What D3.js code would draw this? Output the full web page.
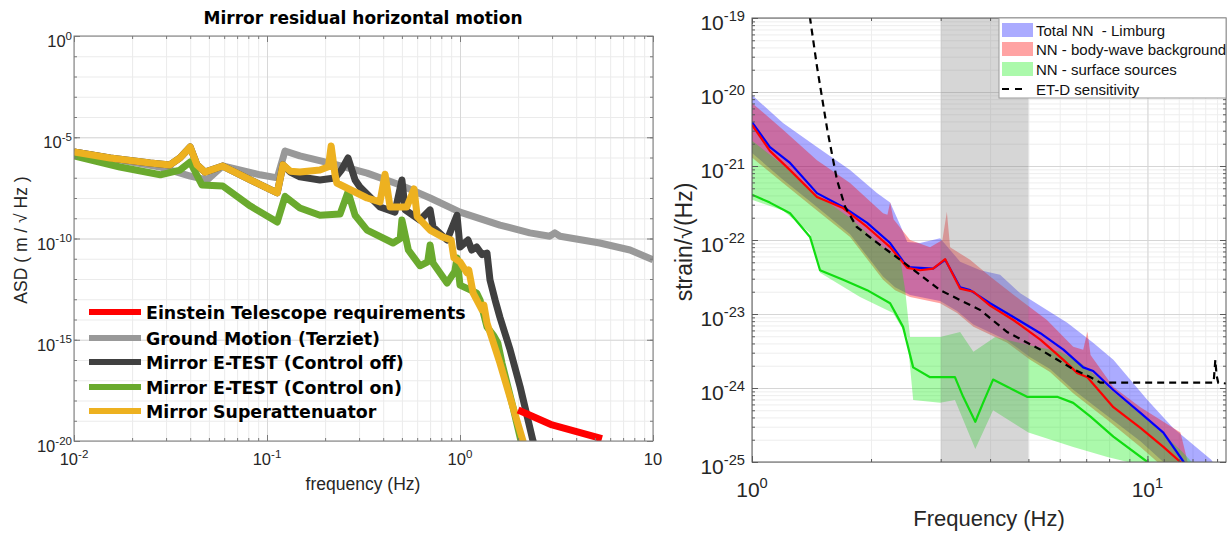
<!DOCTYPE html>
<html>
<head>
<meta charset="utf-8">
<script src="https://cdn.jsdelivr.net/npm/d3@7"></script>
<style>
  body { margin: 0; background: #fff; }
  svg { display: block; }
  text { font-family: "Liberation Sans", Arial, sans-serif; }
</style>
</head>
<body>
<div id="chart"></div>
<script>
// ---------- left panel: ASD (m/√Hz) vs frequency (Hz) ----------
const groundMotion = [[0.01,1.9e-6],[0.0173,7.5e-7],[0.0279,3.4e-7],[0.04,1.2e-7],[0.049,7.8e-8],[0.059,3.8e-7],
  [0.092,1.4e-7],[0.113,9.8e-8],[0.124,2.1e-6],[0.148,1.2e-6],[0.22,4.8e-7],[0.33,1.7e-7],[0.49,4.4e-8],
  [0.70,1.0e-8],[1.0,2.0e-9],[1.61,4.6e-10],[2.3,1.9e-10],[2.92,1.3e-10],[3.1,1.9e-10],[3.3,1.3e-10],
  [5.3,6.0e-11],[7.6,2.7e-11],[10,9e-12]];
const etestOff = [[0.01,1.9e-6],[0.0154,9.5e-7],[0.0248,5.3e-7],[0.0314,4.3e-7],[0.0354,9.5e-7],[0.04,3.3e-6],
  [0.0434,4.3e-7],[0.0477,1.9e-7],[0.059,3.8e-7],[0.082,7.8e-8],[0.113,1.8e-8],[0.121,4.3e-7],[0.132,1.9e-7],
  [0.148,1.1e-7],[0.188,7.8e-8],[0.225,9.8e-8],[0.243,2.4e-7],[0.263,9.5e-7],[0.286,7.8e-8],[0.303,3.5e-8],
  [0.385,3.6e-9],[0.46,2.0e-9],[0.50,7.8e-8],[0.52,2.6e-9],[0.62,8.2e-10],[0.70,2.6e-9],[0.725,3.7e-10],
  [0.857,8.4e-11],[0.965,1.4e-9],[1.0,3.8e-11],[1.10,8.4e-11],[1.15,2.7e-11],[1.22,3.8e-11],[1.30,1.6e-11],
  [1.38,1.9e-11],[1.43,9.0e-13],[1.52,9.2e-14],[1.61,1.3e-14],[1.82,3.1e-16],[2.05,4.7e-18],[2.39,1e-20],[2.6,1e-21]];
const etestOn = [[0.01,1.2e-6],[0.0173,3.4e-7],[0.028,1.4e-7],[0.0354,2.4e-7],[0.04,6.0e-7],[0.046,4.4e-8],
  [0.059,3.9e-8],[0.082,4e-9],[0.113,6.5e-10],[0.124,1.2e-8],[0.148,3.2e-9],[0.188,1.4e-9],[0.239,1.6e-9],
  [0.263,2.0e-8],[0.286,1.4e-9],[0.33,2.6e-10],[0.45,6.0e-11],[0.49,1e-10],[0.50,8.2e-10],[0.54,2.7e-11],
  [0.62,4.5e-12],[0.68,7e-12],[0.70,4.8e-11],[0.725,6.2e-12],[0.857,6.3e-13],[0.94,2.4e-12],[0.965,1.1e-11],
  [1.0,5e-13],[1.13,2.9e-13],[1.22,2.0e-13],[1.27,9.2e-14],[1.38,4.3e-15],[1.50,1.5e-15],[1.57,6.9e-16],
  [1.65,7.1e-17],[1.88,4.8e-19],[2.07,1e-20],[2.3,1e-21]];
const superattenuator = [[0.01,1.9e-6],[0.0154,9.5e-7],[0.0248,5.3e-7],[0.0314,4.3e-7],[0.0354,9.5e-7],[0.04,3.3e-6],
  [0.0434,4.3e-7],[0.0477,1.9e-7],[0.059,3.8e-7],[0.082,7.8e-8],[0.113,1.8e-8],[0.121,4.3e-7],[0.132,2.1e-7],
  [0.148,1.9e-7],[0.188,2.4e-7],[0.208,3.5e-7],[0.215,3.7e-6],[0.225,1.5e-7],[0.23,5.5e-8],[0.33,1.0e-8],
  [0.385,6.4e-9],[0.409,1.5e-7],[0.434,3.6e-9],[0.53,3.6e-9],[0.578,2.8e-8],[0.60,1.2e-9],[0.70,2.6e-10],
  [0.81,1.2e-10],[0.90,8.4e-11],[0.93,1.1e-11],[1.0,7e-12],[1.087,2.0e-12],[1.11,2.8e-12],[1.17,2.0e-13],
  [1.30,3.0e-14],[1.33,5.2e-14],[1.38,6.7e-15],[1.61,7.1e-17],[1.88,4.8e-19],[2.12,1e-20],[2.3,1e-21]];
const etRequirement = [[2.0,3.4e-19],[3.0,6.2e-20],[5.44,1.3e-20]];

const leftNames = ['Einstein Telescope requirements','Ground Motion (Terziet)','Mirror E-TEST (Control off)',
  'Mirror E-TEST (Control on)','Mirror Superattenuator'];
const leftColors = ['#ff0000','#999999','#404040','#6aaa2e','#edb120'];
const leftXTicks = [0.01, 0.1, 1, 10];
const leftXLabels = [['10','-2'],['10','-1'],['10','0'],['10','']];
const leftYTicks = [1, 1e-5, 1e-10, 1e-15, 1e-20];
const leftYLabels = ['0','-5','-10','-15','-20'];

// ---------- right panel: strain/√Hz vs frequency ----------
const totalUpper = [[1.0,9.1e-21],[1.198,3.8e-21],[1.46,1.8e-21],[1.77,8.8e-22],[2.07,4.3e-22],[2.235,3.2e-22],
  [2.37,1.6e-22],[2.47,9.4e-23],[2.66,9.1e-23],[2.99,1.06e-22],[3.36,5.1e-23],[3.78,3.9e-23],[4.24,3.4e-23],
  [4.77,1.9e-23],[5.57,1.13e-23],[6.27,7.6e-24],[7.29,4.1e-24],[8.2,2.4e-24],[10.0,6.9e-25],[11.6,2.9e-25],
  [14.5,1.07e-25],[15.3,7e-26]];
const totalLower = [[1.0,1.5e-21],[1.198,6.5e-22],[1.46,2.8e-22],[1.77,1.2e-22],[2.145,3.2e-23],[2.3,2.3e-23],
  [2.51,1.8e-23],[2.99,1.5e-23],[3.30,1.1e-23],[3.63,7.2e-24],[4.42,4.4e-24],[5.05,2.6e-24],[5.67,1.8e-24],
  [6.49,9.5e-25],[7.92,4.2e-25],[9.6,1.9e-25],[10.97,1e-25],[11.6,7e-26]];
const bodyUpper = [[1.0,7.1e-21],[1.198,3.1e-21],[1.46,1.2e-21],[1.77,5.9e-22],[2.145,2.3e-22],[2.2,2.2e-22],
  [2.235,3.2e-22],[2.28,1.9e-22],[2.51,1.0e-22],[2.82,8.0e-23],[3.03,1.0e-22],[3.11,2.4e-22],[3.17,8e-23],
  [3.56,5.4e-23],[4.0,3.2e-23],[4.77,1.55e-23],[5.57,8.3e-24],[6.49,3.6e-24],[6.88,3.3e-24],[7.05,5.8e-24],
  [7.18,2.8e-24],[8.2,1.03e-24],[9.6,5.5e-25],[12.12,2.5e-25],[12.6,1.07e-25],[12.8,7e-26]];
const bodyLower = [[1.0,1.3e-21],[1.198,5.9e-22],[1.46,2.5e-22],[1.77,1.1e-22],[2.145,2.9e-23],[2.3,2.1e-23],
  [2.51,1.7e-23],[2.99,1.4e-23],[3.30,1.03e-23],[3.63,6.7e-24],[4.42,4.1e-24],[5.05,2.4e-24],[5.67,1.65e-24],
  [6.49,8.5e-25],[7.92,3.7e-25],[9.6,1.6e-25],[10.6,1e-25],[11.1,7e-26]];
const surfUpper = [[1.0,2.2e-21],[1.198,1.03e-21],[1.46,4.1e-22],[1.77,2.0e-22],[2.145,8.0e-23],[2.37,5.7e-23],
  [2.44,2.1e-23],[2.51,4.9e-24],[2.99,4.9e-24],[3.36,5.7e-24],[3.63,3.1e-24],[4.12,4.9e-24],[5.0,3.8e-24],
  [6.02,3.1e-24],[6.77,2.2e-24],[7.47,1.4e-24],[8.2,8.8e-25],[10.0,3.7e-25],[12.12,1.45e-25],[13.2,9e-26]];
const surfLower = [[1.0,3.5e-22],[1.198,2.5e-22],[1.402,1.24e-22],[1.486,3.6e-23],[1.876,1.7e-23],[2.274,1.03e-23],
  [2.47,4.9e-24],[2.556,6.9e-25],[2.99,6.3e-25],[3.26,6.9e-25],[3.67,1.5e-25],[4.07,5.0e-25],[5.0,2.5e-25],
  [6.49,1.6e-25],[7.92,1.17e-25],[8.92,1e-25],[9.6,7e-26]];
const totalMedian = [[1.0,3.9e-21],[1.11,1.8e-21],[1.248,1.1e-21],[1.46,4.3e-22],[1.70,2.8e-22],[1.955,1.7e-22],
  [2.235,9.1e-23],[2.47,4.3e-23],[2.66,4.2e-23],[2.87,4.1e-23],[3.08,5.4e-23],[3.36,2.3e-23],[3.56,2.1e-23],
  [4.0,1.4e-23],[4.58,9.1e-24],[5.36,5.5e-24],[6.13,3.3e-24],[6.88,1.9e-24],[7.29,1.7e-24],[8.2,9.4e-25],
  [9.6,4.6e-25],[10.97,2.5e-25],[12.35,1e-25],[13,7e-26]];
const bodyMedian = [[1.0,3.6e-21],[1.11,1.6e-21],[1.248,8.8e-22],[1.46,3.8e-22],[1.70,2.7e-22],[1.955,1.5e-22],
  [2.235,8.0e-23],[2.47,4.2e-23],[2.66,3.9e-23],[2.87,4.1e-23],[3.08,5.5e-23],[3.36,2.2e-23],[3.63,2.0e-23],
  [4.0,1.3e-23],[4.58,8.3e-24],[5.36,4.5e-24],[6.13,2.4e-24],[6.64,1.6e-24],[7.05,1.4e-24],[8.2,5.5e-25],
  [9.6,2.9e-25],[10.97,1.6e-25],[12.12,1e-25],[12.8,7e-26]];
const surfMedian = [[1.0,4.1e-22],[1.11,3.2e-22],[1.248,2.3e-22],[1.402,1.1e-22],[1.486,3.9e-23],[1.70,2.9e-23],
  [1.955,2.1e-23],[2.235,1.4e-23],[2.41,6.7e-24],[2.556,1.9e-24],[2.82,1.4e-24],[3.26,1.4e-24],[3.42,7.6e-25],
  [3.67,3.5e-25],[3.84,6.3e-25],[4.07,1.3e-24],[4.96,7.6e-25],[5.91,7.6e-25],[6.49,6.3e-25],[7.18,4.1e-25],
  [8.2,2.2e-25],[10.0,1e-25],[10.5,8e-26]];
const etdSensitivity = [[1.38,1.5e-19],[1.402,1e-19],[1.46,2.2e-20],[1.55,3.1e-21],[1.64,6.5e-22],[1.72,2.8e-22],
  [1.84,1.5e-22],[2.145,8.0e-23],[2.51,4.3e-23],[2.99,2.1e-23],[3.78,1.13e-23],[4.42,5.7e-24],[5.36,3.3e-24],
  [6.49,1.8e-24],[7.18,1.4e-24],[7.6,1.18e-24],[14.7,1.18e-24],[14.85,2.4e-24],[14.95,1.5e-24],[15.1,1.18e-24],
  [15.8,1.15e-24]];
const sensBand = [3, 5];

const rightNames = ['Total NN  - Limburg','NN - body-wave background','NN - surface sources','ET-D sensitivity'];
const rightFills = ['#0000ff','#ff0000','#00ee00'];
const rightXTicks = [1, 10];
const rightXLabels = ['0','1'];
const rightYTicks = [1e-19,1e-20,1e-21,1e-22,1e-23,1e-24,1e-25];
const rightYLabels = ['-19','-20','-21','-22','-23','-24','-25'];

// ------------------------------------------------------------
const svg = d3.select('#chart').append('svg')
  .attr('width', 1231).attr('height', 533);

function decadeValues(lo, hi, withMinor) {
  const out = [];
  for (let p = lo; p < hi; p++) {
    for (let m = 1; m <= 9; m++) {
      if (m === 1 || withMinor) out.push(m * Math.pow(10, p));
    }
  }
  out.push(Math.pow(10, hi));
  return out;
}

function supText(g, x, y, base, exp, size, anchor) {
  const t = g.append('text').attr('x', x).attr('y', y)
    .attr('text-anchor', anchor).attr('fill', '#262626')
    .style('font-size', size + 'px');
  t.append('tspan').text(base);
  if (exp) t.append('tspan').attr('dy', -size * 0.45).style('font-size', (size * 0.7) + 'px').text(exp);
}

// grid lines drawn with d3 axes
function gridLines(g, x, y, xMinor, xMajor, yMinor, yMajor, cfg) {
  const [x0, x1] = x.range(), [y0, y1] = y.range();
  const h = y0 - y1, w = x1 - x0;
  const grid = (axis, vals, size, color, tr) => g.append('g').attr('transform', tr)
    .call(axis.tickValues(vals).tickSize(size).tickFormat(''))
    .call(s => s.select('.domain').remove())
    .call(s => s.selectAll('line').attr('stroke', color).attr('stroke-width', 1));
  grid(d3.axisBottom(x), xMinor, -h, cfg.minor, `translate(0,${y0})`);
  grid(d3.axisLeft(y), yMinor, -w, cfg.minor, `translate(${x0},0)`);
  grid(d3.axisBottom(x), xMajor, -h, cfg.major, `translate(0,${y0})`);
  grid(d3.axisLeft(y), yMajor, -w, cfg.major, `translate(${x0},0)`);
}

// box + inward ticks on all four sides (matlab look)
function boxAndTicks(g, x, y, xMinor, xMajor, yMinor, yMajor, color) {
  const [x0, x1] = x.range(), [y0, y1] = y.range();
  const tk = (axis, vals, size, tr) => g.append('g').attr('transform', tr)
    .call(axis.tickValues(vals).tickSize(size).tickFormat(''))
    .call(s => s.select('.domain').remove())
    .call(s => s.selectAll('line').attr('stroke', color));
  tk(d3.axisBottom(x), xMinor, -3, `translate(0,${y0})`);
  tk(d3.axisTop(x), xMinor, -3, `translate(0,${y1})`);
  tk(d3.axisBottom(x), xMajor, -6, `translate(0,${y0})`);
  tk(d3.axisTop(x), xMajor, -6, `translate(0,${y1})`);
  tk(d3.axisLeft(y), yMinor, -3, `translate(${x0},0)`);
  tk(d3.axisRight(y), yMinor, -3, `translate(${x1},0)`);
  tk(d3.axisLeft(y), yMajor, -6, `translate(${x0},0)`);
  tk(d3.axisRight(y), yMajor, -6, `translate(${x1},0)`);
  g.append('rect').attr('x', x0).attr('y', y1).attr('width', x1 - x0).attr('height', y0 - y1)
    .attr('fill', 'none').attr('stroke', color).attr('stroke-width', 1);
}

// ================= LEFT PANEL =================
const xL = d3.scaleLog().domain([0.01, 10]).range([74, 653]);
const yL = d3.scaleLog().domain([1e-20, 1]).range([441, 36]);
const left = svg.append('g');

gridLines(left, xL, yL, decadeValues(-2, 1, true), leftXTicks,
  decadeValues(-20, 0, false), leftYTicks, { minor: '#ebebeb', major: '#d8d8d8' });

left.append('clipPath').attr('id', 'clipL').append('rect')
  .attr('x', 74).attr('y', 36).attr('width', 579).attr('height', 405);

const lineL = d3.line().x(d => xL(d[0])).y(d => yL(d[1]));
const leftSeries = [
  { data: groundMotion, color: leftColors[1] },
  { data: etestOff, color: leftColors[2] },
  { data: etestOn, color: leftColors[3] },
  { data: superattenuator, color: leftColors[4] },
  { data: etRequirement, color: leftColors[0] }
];
left.append('g').attr('clip-path', 'url(#clipL)')
  .selectAll('path').data(leftSeries).join('path')
  .attr('d', d => lineL(d.data))
  .attr('fill', 'none')
  .attr('stroke', d => d.color)
  .attr('stroke-width', 7)
  .attr('stroke-linejoin', 'round');

boxAndTicks(left, xL, yL, decadeValues(-2, 1, true), leftXTicks,
  decadeValues(-20, 0, false), leftYTicks, '#7a7a7a');

leftXTicks.forEach((v, i) => supText(left, xL(v), 465, leftXLabels[i][0], leftXLabels[i][1], 16.5, 'middle'));
leftYTicks.forEach((v, i) => supText(left, 72, yL(v) + 11, '10', leftYLabels[i], 16.5, 'end'));

left.append('text').attr('x', 363).attr('y', 24).attr('text-anchor', 'middle')
  .style('font-family', '"DejaVu Sans", Verdana, sans-serif').style('font-weight', 'bold')
  .style('font-size', '17px').text('Mirror residual horizontal motion');
left.append('text').attr('x', 363).attr('y', 490).attr('text-anchor', 'middle')
  .attr('fill', '#262626').style('font-size', '17.5px').text('frequency (Hz)');
left.append('text').attr('transform', 'rotate(-90)').attr('x', -240).attr('y', 27)
  .attr('text-anchor', 'middle').attr('fill', '#262626').style('font-size', '17.5px')
  .text('ASD ( m / \u221A Hz )');

// legend
const legL = left.append('g');
const legRows = [312, 338, 362, 387, 411];
leftNames.forEach((name, i) => {
  legL.append('line').attr('x1', 89).attr('x2', 141).attr('y1', legRows[i]).attr('y2', legRows[i])
    .attr('stroke', leftColors[i]).attr('stroke-width', 6);
  legL.append('text').attr('x', 146).attr('y', legRows[i] + 7)
    .style('font-family', '"DejaVu Sans", Verdana, sans-serif').style('font-weight', 'bold')
    .style('font-size', '17.4px').text(name);
});

// ================= RIGHT PANEL =================
const xR = d3.scaleLog().domain([1, 15.8]).range([752, 1226]);
const yR = d3.scaleLog().domain([1e-25, 1e-19]).range([462, 18]);
const right = svg.append('g');

const xRMinor = decadeValues(0, 1, true).concat([11, 12, 13, 14, 15]);
gridLines(right, xR, yR, xRMinor, rightXTicks,
  decadeValues(-25, -19, true), rightYTicks, { minor: '#eeeeee', major: '#d6d6d6' });

right.append('clipPath').attr('id', 'clipR').append('rect')
  .attr('x', 752).attr('y', 18).attr('width', 474).attr('height', 444);
const plotR = right.append('g').attr('clip-path', 'url(#clipR)');

const lineR = d3.line().x(d => xR(d[0])).y(d => yR(d[1]));
const bandPath = (up, lo) => lineR(up.concat(lo.slice().reverse())) + 'Z';
const bands = [
  { up: totalUpper, lo: totalLower, color: rightFills[0], op: 0.33 },
  { up: bodyUpper, lo: bodyLower, color: rightFills[1], op: 0.36 },
  { up: surfUpper, lo: surfLower, color: rightFills[2], op: 0.33 }
];
plotR.selectAll('path.band').data(bands).join('path').attr('class', 'band')
  .attr('d', d => bandPath(d.up, d.lo))
  .attr('fill', d => d.color).attr('fill-opacity', d => d.op).attr('stroke', 'none');

plotR.append('rect')
  .attr('x', xR(sensBand[0])).attr('y', 18)
  .attr('width', xR(sensBand[1]) - xR(sensBand[0])).attr('height', 444)
  .attr('fill', '#808080').attr('fill-opacity', 0.32);

const medians = [
  { data: totalMedian, color: '#0000ff' },
  { data: bodyMedian, color: '#ff0000' },
  { data: surfMedian, color: '#11dd11' }
];
plotR.selectAll('path.med').data(medians).join('path').attr('class', 'med')
  .attr('d', d => lineR(d.data)).attr('fill', 'none')
  .attr('stroke', d => d.color).attr('stroke-width', 2.2).attr('stroke-linejoin', 'round');

plotR.append('path').attr('d', lineR(etdSensitivity)).attr('fill', 'none')
  .attr('stroke', '#000').attr('stroke-width', 2.2).attr('stroke-dasharray', '7,5');

boxAndTicks(right, xR, yR, xRMinor, rightXTicks,
  decadeValues(-25, -19, true), rightYTicks, '#5a5a5a');

rightXTicks.forEach((v, i) => supText(right, xR(v), 497, '10', rightXLabels[i], 21, 'middle'));
rightYTicks.forEach((v, i) => supText(right, 745, yR(v) + 12, '10', rightYLabels[i], 21, 'end'));

right.append('text').attr('x', 989).attr('y', 526).attr('text-anchor', 'middle')
  .attr('fill', '#262626').style('font-size', '22px').text('Frequency (Hz)');
right.append('text').attr('transform', 'rotate(-90)').attr('x', -242).attr('y', 692)
  .attr('text-anchor', 'middle').attr('fill', '#262626').style('font-size', '23px')
  .text('strain/\u221A(Hz)');

// legend
const legR = right.append('g');
legR.append('rect').attr('x', 999).attr('y', 18).attr('width', 227).attr('height', 80)
  .attr('fill', '#fff').attr('stroke', '#9a9a9a');
const rRows = [30, 49, 69, 89];
rightNames.forEach((name, i) => {
  if (i < 3) {
    legR.append('rect').attr('x', 1002).attr('y', rRows[i] - 7).attr('width', 31).attr('height', 14)
      .attr('fill', rightFills[i]).attr('fill-opacity', bands[i].op);
  } else {
    legR.append('line').attr('x1', 1002).attr('x2', 1028).attr('y1', rRows[i]).attr('y2', rRows[i])
      .attr('stroke', '#000').attr('stroke-width', 2).attr('stroke-dasharray', '7,6');
  }
  legR.append('text').attr('x', 1036).attr('y', rRows[i] + 6)
    .style('font-size', '15px').style('white-space', 'pre').attr('fill', '#111').text(name);
});
</script>
</body>
</html>
